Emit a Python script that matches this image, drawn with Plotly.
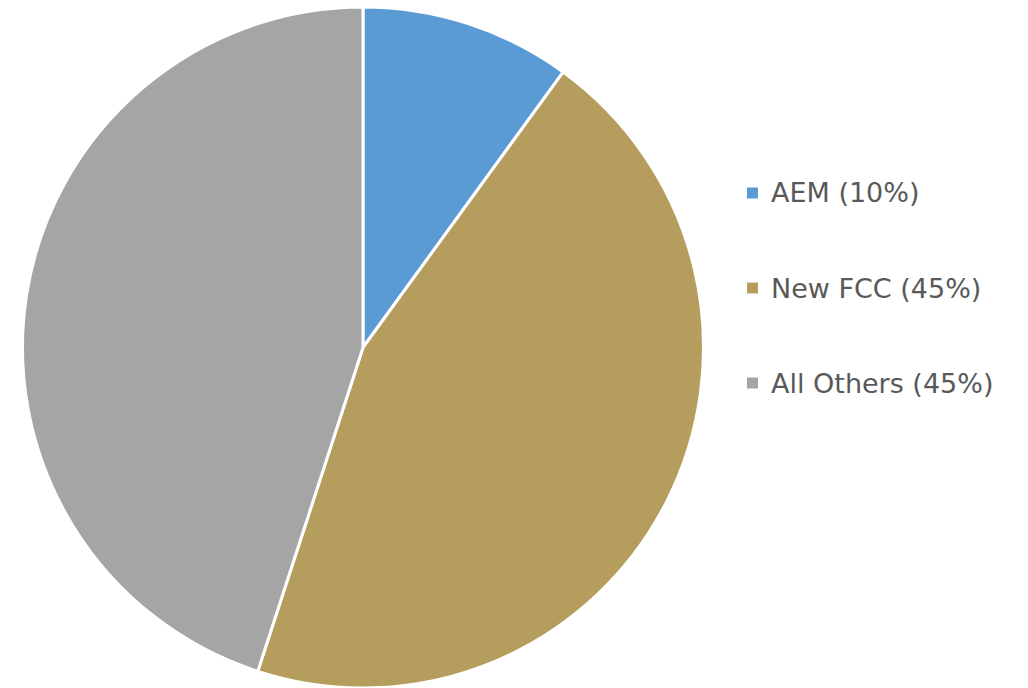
import plotly.graph_objects as go

labels = ["AEM", "New FCC", "All Others"]
values = [10, 45, 45]
colors = ["#5B9BD5", "#B59E5D", "#A5A5A5"]
legend_text = [f"{l} ({v}%)" for l, v in zip(labels, values)]

fig = go.Figure()
fig.add_trace(go.Pie(
    labels=labels, values=values, sort=False, direction="clockwise", rotation=0,
    marker=dict(colors=colors, line=dict(color="white", width=3)),
    textinfo="none", hoverinfo="label+percent",
    domain=dict(x=[22/1028, 704/1028], y=[0, 1 - 7/688]),
    showlegend=False,
))

W, H = 1028, 688
ys = [193, 288, 383]
for txt, col, y in zip(legend_text, colors, ys):
    fig.add_shape(type="rect", xref="paper", yref="paper",
                  x0=747/W, x1=758/W, y0=1-(y+5.5)/H, y1=1-(y-5.5)/H,
                  fillcolor=col, line=dict(width=0))
    fig.add_annotation(x=769/W, y=1-y/H, xref="paper", yref="paper",
                       text=txt, showarrow=False, xanchor="left", yanchor="middle",
                       font=dict(family="DejaVu Sans", size=27, color="#595959"))

fig.update_layout(width=W, height=H, margin=dict(l=0, r=0, t=0, b=0),
                  paper_bgcolor="white", plot_bgcolor="white")
fig.write_html("out.html")
